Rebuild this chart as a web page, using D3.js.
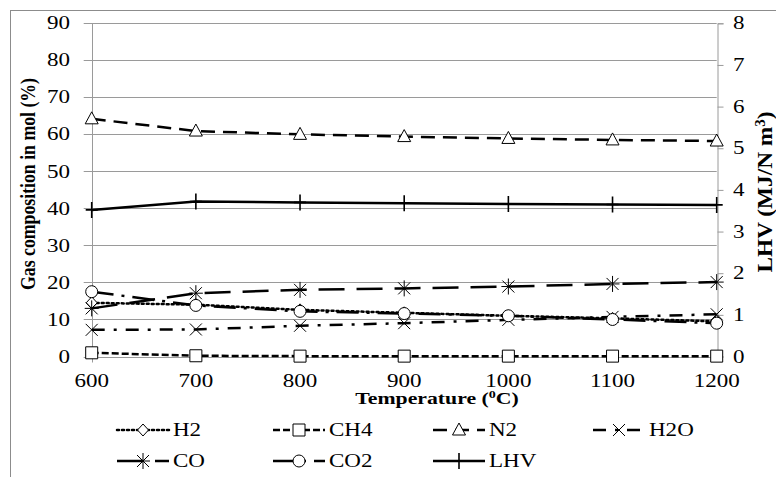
<!DOCTYPE html>
<html>
  <head>
    <meta charset="utf-8">
    <script src="https://d3js.org/d3.v7.min.js"></script>
    <style>
      body { margin: 0; background: #fff; }
      text { font-family: "Liberation Serif", "Times New Roman", serif; fill: #000; }
    </style>
  </head>
  <body>
    <svg></svg>
    <script type="text/javascript">

      // chart values
      var temps = [600, 700, 800, 900, 1000, 1100, 1200];
      var h2  = [14.5, 14.0, 12.6, 11.8, 11.0, 10.3, 9.5];
      var ch4 = [1.0, 0.2, 0.1, 0.1, 0.1, 0.1, 0.1];
      var n2  = [64.2, 60.9, 60.0, 59.4, 58.9, 58.5, 58.2];
      var h2o = [7.2, 7.3, 8.3, 9.0, 9.9, 10.7, 11.4];
      var co  = [13.0, 17.1, 18.0, 18.4, 18.9, 19.6, 20.1];
      var co2 = [17.5, 13.8, 12.2, 11.6, 11.0, 10.0, 9.0];
      var lhv = [3.52, 3.72, 3.70, 3.68, 3.66, 3.65, 3.64];

      var leftTicks = [0, 10, 20, 30, 40, 50, 60, 70, 80, 90];
      var rightTicks = [0, 1, 2, 3, 4, 5, 6, 7, 8];

      var series = [
        {name: "H2",  values: h2,  axis: "left"},
        {name: "CH4", values: ch4, axis: "left"},
        {name: "N2",  values: n2,  axis: "left"},
        {name: "H2O", values: h2o, axis: "left"},
        {name: "CO",  values: co,  axis: "left"},
        {name: "CO2", values: co2, axis: "left"},
        {name: "LHV", values: lhv, axis: "right"}
      ];

      // line / marker look per series
      var looks = {
        H2:  {dash: "2,3",  cap: "round", marker: "diamond"},
        CH4: {dash: "7,3",  cap: "butt",  marker: "square"},
        N2:  {dash: "14,8", cap: "butt",  marker: "triangle"},
        H2O: {dash: "13,9,3,9", cap: "butt", marker: "x"},
        CO:  {dash: "26,12", cap: "butt", marker: "star"},
        CO2: {dash: "22,8,3,8", cap: "butt", marker: "circle"},
        LHV: {dash: null,   cap: "butt",  marker: "plus"}
      };

      var width = 776, height = 477;
      var pLeft = 91.7, pRight = 716.7, pTop = 23.3, pBottom = 356.5;
      var sx = 1.28;   // the source picture is stretched sideways

      var svg = d3.select("svg")
                  .attr("width", width)
                  .attr("height", height);

      // outer frame
      svg.append("rect")
        .attr("x", 10.5).attr("y", 10.5)
        .attr("width", 800).attr("height", 500)
        .attr("fill", "none")
        .attr("stroke", "#8c8c8c")
        .attr("stroke-width", 1);

      var x = d3.scaleLinear().domain([600, 1200]).range([pLeft, pRight]);
      var yL = d3.scaleLinear().domain([0, 90]).range([pBottom, pTop]);
      var yR = d3.scaleLinear().domain([0, 8]).range([pBottom, pTop]);

      // gridlines
      svg.append("g")
        .selectAll("line")
        .data(leftTicks)
        .join("line")
        .attr("x1", pLeft - 8)
        .attr("x2", pRight)
        .attr("y1", d => Math.round(yL(d)) + 0.5)
        .attr("y2", d => Math.round(yL(d)) + 0.5)
        .attr("stroke", "#9a9a9a")
        .attr("stroke-width", 1);

      // vertical axis lines
      svg.append("line")
        .attr("x1", Math.round(pLeft) + 0.5).attr("x2", Math.round(pLeft) + 0.5)
        .attr("y1", pTop).attr("y2", pBottom + 6)
        .attr("stroke", "#9a9a9a");

      var gR = svg.append("g")
        .attr("transform", "translate(" + (Math.round(pRight) + 0.5) + ",0)")
        .call(d3.axisRight(yR).tickValues(rightTicks).tickSize(6).tickFormat(""));
      gR.select(".domain").attr("stroke", "#9a9a9a");
      gR.selectAll(".tick line").attr("stroke", "#9a9a9a");

      function stretched(g, xx, yy) {
        return g.append("text")
          .attr("transform", "translate(" + xx + "," + yy + ") scale(" + sx + ",1)");
      }

      // left tick labels
      leftTicks.forEach(function (d) {
        stretched(svg, 70, yL(d))
          .attr("dy", "0.34em")
          .attr("text-anchor", "end")
          .style("font-size", "18px")
          .text(d);
      });

      // right tick labels
      rightTicks.forEach(function (d) {
        stretched(svg, 733, yR(d))
          .attr("dy", "0.34em")
          .style("font-size", "18px")
          .text(d);
      });

      // x tick labels
      temps.forEach(function (d) {
        stretched(svg, x(d), 387)
          .attr("text-anchor", "middle")
          .style("font-size", "18px")
          .text(d);
      });

      // axis titles
      var xt = stretched(svg, 437, 404)
        .attr("text-anchor", "middle")
        .style("font-size", "17px")
        .style("font-weight", "bold");
      xt.append("tspan").text("Temperature (");
      xt.append("tspan").attr("dy", -6).style("font-size", "11px").text("0");
      xt.append("tspan").attr("dy", 6).text("C)");

      svg.append("text")
        .attr("transform", "translate(35,184) rotate(-90) scale(1,1.25)")
        .attr("text-anchor", "middle")
        .attr("textLength", 212)
        .attr("lengthAdjust", "spacingAndGlyphs")
        .style("font-size", "17px")
        .style("font-weight", "bold")
        .text("Gas composition in mol (%)");

      var rt = svg.append("text")
        .attr("transform", "translate(772,192) rotate(-90) scale(1,1.25)")
        .attr("text-anchor", "middle")
        .attr("textLength", 161)
        .attr("lengthAdjust", "spacingAndGlyphs")
        .style("font-size", "17px")
        .style("font-weight", "bold");
      rt.append("tspan").text("LHV (MJ/N m");
      rt.append("tspan").attr("dy", -6).style("font-size", "11px").text("3");
      rt.append("tspan").attr("dy", 6).text(")");

      function markerPath(kind) {
        switch (kind) {
          case "diamond": return "M0,-6L5.5,0L0,6L-5.5,0Z";
          case "square": return "M-6,-6H6V6H-6Z";
          case "triangle": return "M0,-7L6.5,5L-6.5,5Z";
          case "circle": return "M6,0A6,6 0 1,1 -6,0A6,6 0 1,1 6,0Z";
          case "x": return "M-6,-6L6,6M6,-6L-6,6";
          case "star": return "M-6,-6L6,6M6,-6L-6,6M0,-8V8M-7,0H7";
          case "plus": return "M0,-8V8M-6,0H6";
        }
      }
      var filled = {diamond: true, square: true, triangle: true, circle: true};

      var plot = svg.append("g");

      series.forEach(function (s) {
        var look = looks[s.name];
        var ys = s.axis === "left" ? yL : yR;
        var pts = temps.map((t, i) => [x(t), ys(s.values[i])]);

        plot.append("path")
          .datum(pts)
          .attr("d", d3.line())
          .attr("fill", "none")
          .attr("stroke", "#000")
          .attr("stroke-width", 2.5)
          .attr("stroke-linecap", look.cap)
          .attr("stroke-dasharray", look.dash);

        plot.append("g")
          .selectAll("path")
          .data(pts)
          .join("path")
          .attr("transform", p => "translate(" + p[0] + "," + p[1] + ")")
          .attr("d", markerPath(look.marker))
          .attr("fill", filled[look.marker] ? "#fff" : "none")
          .attr("stroke", "#000")
          .attr("stroke-width", look.marker === "plus" ? 1.6 : 1);
      });

      // legend
      var legendRows = [["H2", "CH4", "N2", "H2O"], ["CO", "CO2", "LHV"]];
      var colX = [117, 273, 433, 593];
      var rowY = [430, 461];

      legendRows.forEach(function (row, r) {
        row.forEach(function (name, c) {
          var look = looks[name];
          var g = svg.append("g")
            .attr("transform", "translate(" + colX[c] + "," + rowY[r] + ")");
          g.append("line")
            .attr("x1", 0).attr("x2", 52)
            .attr("stroke", "#000")
            .attr("stroke-width", 2.5)
            .attr("stroke-linecap", look.cap)
            .attr("stroke-dasharray", look.dash);
          g.append("path")
            .attr("transform", "translate(26,0)")
            .attr("d", markerPath(look.marker))
            .attr("fill", filled[look.marker] ? "#fff" : "none")
            .attr("stroke", "#000")
            .attr("stroke-width", look.marker === "plus" ? 1.6 : 1);
          stretched(g, 56, 0)
            .attr("dy", "0.35em")
            .style("font-size", "18px")
            .text(name);
        });
      });

    </script>
  </body>
</html>
